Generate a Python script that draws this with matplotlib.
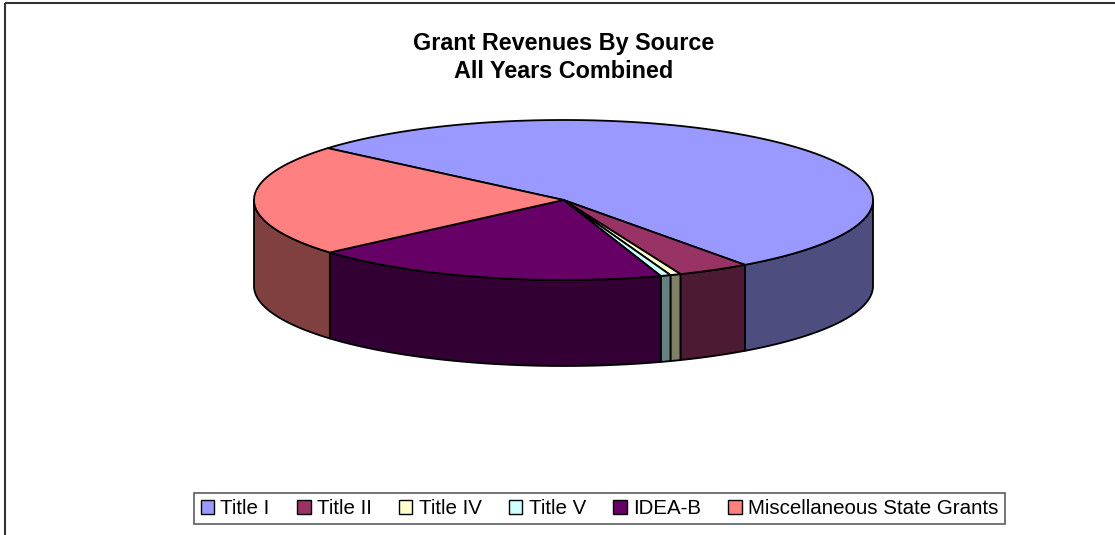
import numpy as np
import matplotlib
matplotlib.use("Agg")
import matplotlib.pyplot as plt
from matplotlib.patches import Polygon, Rectangle, Patch

plt.rcParams['font.family'] = ['Liberation Sans', 'DejaVu Sans']

# ---- data ----
categories = ["Title I", "Title II", "Title IV", "Title V", "IDEA-B",
              "Miscellaneous State Grants"]
values = [53.8, 3.8, 0.55, 0.53, 18.7, 22.6]
top_colors = ["#9999FF", "#993366", "#FFFFCC", "#CCFFFF", "#660066", "#FF8080"]
side_colors = ["#4D4D80", "#4D1A33", "#808066", "#668080", "#330033", "#804040"]
title_lines = ["Grant Revenues By Source", "All Years Combined"]

# ---- layout ----
W, H = 1115, 535
fig = plt.figure(figsize=(W / 100, H / 100), dpi=100)
ax = fig.add_axes([0, 0, 1, 1])
ax.set_xlim(0, W)
ax.set_ylim(H, 0)
ax.axis("off")

cx, cy = 563.5, 200.0
rx, ry = 309.5, 80.0
depth = 86.0
start_angle = 139.6

total = float(sum(values))
cum = np.concatenate([[0], np.cumsum(values)])
starts = start_angle - 360.0 * cum[:-1] / total
ends = start_angle - 360.0 * cum[1:] / total


def pt(t, dy=0.0):
    r = np.radians(t)
    return cx + rx * np.cos(r), cy - ry * np.sin(r) + dy


def arc(a, b, dy=0.0, n=None):
    if n is None:
        n = max(2, int(abs(a - b) * 2) + 2)
    ts = np.linspace(a, b, n)
    return [pt(t, dy) for t in ts]


lw = 1.3
# sides (front half: angles in [-180, 0] mod 360)
for a, b, sc in zip(starts, ends, side_colors):
    lo, hi = b, a
    for k in (-1, 0, 1):
        s0, s1 = -180 + 360 * k, 0 + 360 * k
        l2, h2 = max(lo, s0), min(hi, s1)
        if h2 - l2 > 1e-6:
            topp = arc(h2, l2)
            bot = arc(l2, h2, dy=depth)
            ax.add_patch(Polygon(topp + bot, closed=True, facecolor=sc,
                                 edgecolor="black", lw=lw, joinstyle="round"))

# tops
for a, b, tc in zip(starts, ends, top_colors):
    poly = [(cx, cy)] + arc(a, b)
    ax.add_patch(Polygon(poly, closed=True, facecolor=tc,
                         edgecolor="black", lw=lw, joinstyle="round"))

# chart border
ax.add_patch(Rectangle((5, 2.5), 1200, 600, fill=False, edgecolor="#333333",
                       lw=1.5))

# title
ax.text(564, 50, title_lines[0], ha="center", va="baseline",
        fontsize=16.8, fontweight="bold")
ax.text(564, 78.5, title_lines[1], ha="center", va="baseline",
        fontsize=16.8, fontweight="bold")

# legend
handles = [Patch(facecolor=c, edgecolor="black", lw=1.0) for c in top_colors]
leg = ax.legend(handles, categories, ncol=6, loc="center",
                bbox_to_anchor=(599.5, 508.5), bbox_transform=ax.transData,
                fontsize=14.8, frameon=True, fancybox=False, shadow=False,
                handlelength=0.66, handleheight=0.66, handletextpad=0.3,
                columnspacing=1.33, borderpad=0.3, borderaxespad=0)
leg.get_frame().set_edgecolor("#333333")
leg.get_frame().set_linewidth(1.2)

fig.savefig("out.png", dpi=100)
